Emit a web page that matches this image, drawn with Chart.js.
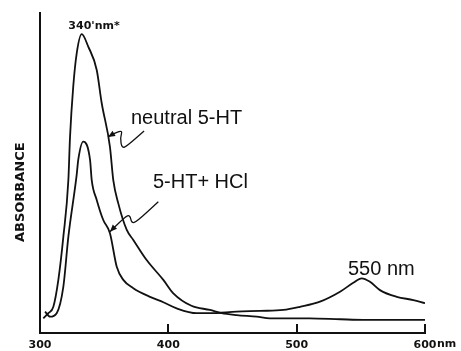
<!DOCTYPE html>
<html>
<head>
<meta charset="utf-8">
<script src="https://cdn.jsdelivr.net/npm/chart.js@4/dist/chart.umd.min.js"></script>
<style>
  html, body { margin: 0; padding: 0; background: #fff; }
  #wrap { width: 461px; height: 351px; }
</style>
</head>
<body>
<div id="wrap"><canvas id="c" width="461" height="351"></canvas></div>
<script>
// ---- data (wavelength in nm, relative absorbance) ----
const neutralWavelength = [302.6, 306.5, 310.4, 314.3, 318.2, 322.1, 323.4, 325.9, 328.6, 332.5, 337.6, 344.2, 348.1, 354.5, 357.1, 361.0, 367.6, 372.7, 383.1, 396.1, 403.9, 418.0, 432.5, 441.6, 453.3, 468.9, 479.2, 510.0, 534.0, 552.0, 580.0, 600.0];
const neutralAbsorbance = [0.046, 0.062, 0.082, 0.166, 0.301, 0.478, 0.613, 0.770, 0.874, 0.934, 0.895, 0.822, 0.718, 0.582, 0.478, 0.405, 0.322, 0.291, 0.228, 0.166, 0.124, 0.085, 0.072, 0.062, 0.056, 0.051, 0.046, 0.046, 0.043, 0.041, 0.041, 0.041];

const hclWavelength = [303.9, 307.8, 313.0, 318.2, 322.1, 328.6, 329.8, 333.7, 339.0, 340.3, 344.2, 349.3, 354.5, 359.8, 364.9, 372.7, 385.7, 396.1, 406.5, 422.1, 432.5, 453.3, 471.4, 489.6, 502.6, 518.2, 533.8, 544.1, 550.7, 557.1, 564.9, 578.0, 590.9, 600.0];
const hclAbsorbance = [0.067, 0.051, 0.062, 0.145, 0.301, 0.495, 0.541, 0.598, 0.541, 0.478, 0.416, 0.353, 0.312, 0.207, 0.166, 0.140, 0.113, 0.096, 0.077, 0.062, 0.062, 0.067, 0.069, 0.072, 0.082, 0.098, 0.129, 0.157, 0.171, 0.160, 0.134, 0.113, 0.103, 0.093];

const xTickValues = [300, 400, 500, 600];
const xTickLabels = ['300', '400', '500', '600'];
const seriesNames = ['neutral 5-HT', '5-HT+ HCl'];
const yAxisTitle = 'ABSORBANCE';

// ---- annotation placement (data coordinates) ----
const annotations = {
  peakLabel: { text: "340'nm*", at: [342.1, 0.959] },
  neutralLabel: { at: [370.9, 0.653] },
  hclLabel: { at: [388.0, 0.453] },
  label550: { text: '550 nm', at: [540.0, 0.181] },
  neutralArrow: [[353.0, 0.6125], [364.7, 0.640], [362.4, 0.609], [363.9, 0.578], [367.8, 0.584], [381.1, 0.631]],
  hclArrow: [[354.5, 0.3166], [366.2, 0.3635], [370.1, 0.369], [371.4, 0.343], [375.3, 0.348], [392.2, 0.410]]
};

const toPoints = (xs, ys) => xs.map((v, i) => ({ x: v, y: ys[i] }));

const annotPlugin = {
  id: 'annot',
  afterDraw(chart) {
    const { ctx, scales: { x, y }, chartArea } = chart;
    const P = (p) => [x.getPixelForValue(p[0]), y.getPixelForValue(p[1])];
    ctx.save();
    ctx.fillStyle = '#111';
    ctx.strokeStyle = '#111';

    // upward tick marks on x axis
    ctx.lineWidth = 2;
    xTickValues.slice(1).forEach(v => {
      const px = Math.round(x.getPixelForValue(v));
      ctx.beginPath();
      ctx.moveTo(px, chartArea.bottom);
      ctx.lineTo(px, chartArea.bottom - 9);
      ctx.stroke();
    });

    // "nm" unit after the last tick label
    ctx.font = 'bold 11px "DejaVu Sans"';
    ctx.textAlign = 'left';
    ctx.textBaseline = 'middle';
    ctx.fillText('nm', x.getPixelForValue(600) + 12, chartArea.bottom + 11);

    // y axis title
    ctx.save();
    ctx.translate(chartArea.left - 19, y.getPixelForValue(0.44));
    ctx.rotate(-Math.PI / 2);
    ctx.font = 'bold 13px "DejaVu Sans"';
    ctx.textAlign = 'center';
    ctx.textBaseline = 'middle';
    ctx.fillText(yAxisTitle, 0, 0);
    ctx.restore();

    // peak label
    ctx.font = 'bold 11px "DejaVu Sans"';
    ctx.textAlign = 'center';
    ctx.textBaseline = 'middle';
    let p = P(annotations.peakLabel.at);
    ctx.fillText(annotations.peakLabel.text, p[0], p[1]);

    // series labels
    ctx.font = '20px "Liberation Sans"';
    ctx.textAlign = 'left';
    ctx.textBaseline = 'alphabetic';
    p = P(annotations.neutralLabel.at);
    ctx.fillText(seriesNames[0], p[0], p[1]);
    p = P(annotations.hclLabel.at);
    ctx.fillText(seriesNames[1], p[0], p[1]);
    p = P(annotations.label550.at);
    ctx.fillText(annotations.label550.text, p[0], p[1]);

    // squiggly arrows
    const drawArrow = (pts) => {
      const q = pts.map(P);
      ctx.lineWidth = 1.3;
      ctx.beginPath();
      ctx.moveTo(q[0][0], q[0][1]);
      for (let i = 1; i < q.length - 1; i++) {
        const mx = (q[i][0] + q[i + 1][0]) / 2, my = (q[i][1] + q[i + 1][1]) / 2;
        ctx.quadraticCurveTo(q[i][0], q[i][1], mx, my);
      }
      ctx.lineTo(q[q.length - 1][0], q[q.length - 1][1]);
      ctx.stroke();
      // arrow head at first point
      const ang = Math.atan2(q[0][1] - q[1][1], q[0][0] - q[1][0]);
      const L = 7, W = 3;
      ctx.beginPath();
      ctx.moveTo(q[0][0], q[0][1]);
      ctx.lineTo(q[0][0] - L * Math.cos(ang) + W * Math.sin(ang), q[0][1] - L * Math.sin(ang) - W * Math.cos(ang));
      ctx.lineTo(q[0][0] - L * Math.cos(ang) - W * Math.sin(ang), q[0][1] - L * Math.sin(ang) + W * Math.cos(ang));
      ctx.closePath();
      ctx.fill();
    };
    drawArrow(annotations.neutralArrow);
    drawArrow(annotations.hclArrow);
    ctx.restore();
  }
};

new Chart(document.getElementById('c'), {
  type: 'scatter',
  data: {
    datasets: [
      { label: seriesNames[0], data: toPoints(neutralWavelength, neutralAbsorbance) },
      { label: seriesNames[1], data: toPoints(hclWavelength, hclAbsorbance) }
    ].map(d => Object.assign(d, {
      showLine: true,
      borderColor: '#111',
      borderWidth: 1.8,
      pointRadius: 0,
      pointHoverRadius: 0,
      cubicInterpolationMode: 'monotone',
      fill: false
    }))
  },
  options: {
    responsive: false,
    animation: false,
    events: [],
    layout: { padding: { top: 13, right: 36, bottom: 0, left: 0 } },
    plugins: { legend: { display: false }, tooltip: { enabled: false } },
    scales: {
      x: {
        type: 'linear',
        min: 300, max: 600,
        afterBuildTicks: (s) => { s.ticks = xTickValues.map(v => ({ value: v })); },
        afterFit: (s) => { s.height = 18; },
        ticks: {
          autoSkip: false,
          maxRotation: 0,
          padding: 6,
          color: '#111',
          font: { family: 'DejaVu Sans', size: 11, weight: 'bold' },
          callback: (v) => xTickLabels[xTickValues.indexOf(v)]
        },
        grid: { display: false, drawTicks: false },
        border: { display: true, color: '#111', width: 2 }
      },
      y: {
        min: 0, max: 1,
        afterFit: (s) => { s.width = 40; },
        ticks: { display: false },
        grid: { display: false, drawTicks: false },
        border: { display: true, color: '#111', width: 2 }
      }
    }
  },
  plugins: [annotPlugin]
});
</script>
</body>
</html>
